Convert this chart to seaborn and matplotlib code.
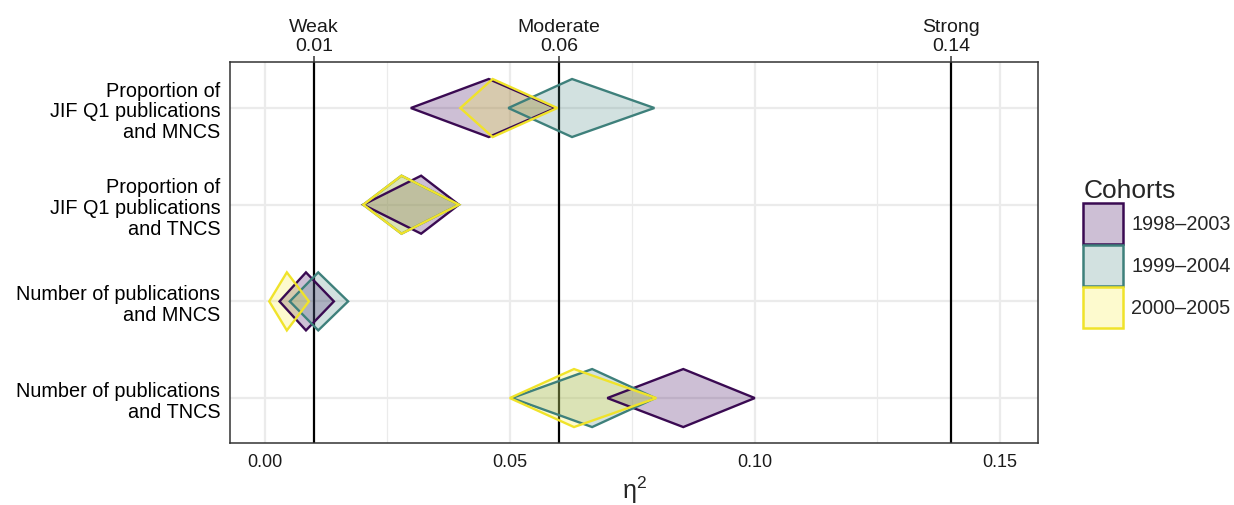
import numpy as np
import pandas as pd
import seaborn as sns
import matplotlib.pyplot as plt
from matplotlib.patches import Patch

# effect size (eta squared) with lower / upper CI per outcome pair and cohort
outcomes = ["Proportion of\nJIF Q1 publications\nand MNCS",
            "Proportion of\nJIF Q1 publications\nand TNCS",
            "Number of publications\nand MNCS",
            "Number of publications\nand TNCS"]
cohorts = ["1998\u20132003", "1999\u20132004", "2000\u20132005"]

eta_1998 = [0.0457, 0.0319, 0.0084, 0.0854]
low_1998 = [0.0298, 0.0201, 0.0030, 0.0699]
up_1998 = [0.0593, 0.0396, 0.0141, 0.1000]

eta_1999 = [0.0627, 0.0279, 0.0109, 0.0668]
low_1999 = [0.0497, 0.0201, 0.0051, 0.0504]
up_1999 = [0.0795, 0.0396, 0.0170, 0.0797]

eta_2000 = [0.0465, 0.0279, 0.0045, 0.0631]
low_2000 = [0.0399, 0.0201, 0.0009, 0.0500]
up_2000 = [0.0597, 0.0396, 0.0090, 0.0799]

thresholds = [0.01, 0.06, 0.14]
threshold_names = ["Weak", "Moderate", "Strong"]
x_ticks = [0.00, 0.05, 0.10, 0.15]

edge_colors = ["#3A0A52", "#3E807B", "#F0E32A"]
fill_colors = ["#3A0358", "#4E8A86", "#F8EC3C"]
fill_alpha = 0.25

df = pd.DataFrame({
    "outcome": outcomes * 3,
    "cohort": np.repeat(cohorts, len(outcomes)),
    "eta": eta_1998 + eta_1999 + eta_2000,
    "low": low_1998 + low_1999 + low_2000,
    "up": up_1998 + up_1999 + up_2000,
})

sns.set_theme(style="whitegrid")
plt.rcParams["font.family"] = ["Liberation Sans", "DejaVu Sans"]

fig = plt.figure(figsize=(12.34, 5.06), dpi=100)
ax = fig.add_axes([0.1864, 0.1225, 0.6548, 0.753])

# row positions: first outcome at top
ypos = {o: len(outcomes) - i for i, o in enumerate(outcomes)}
half_h = 0.3

for cohort, ec, fc in zip(cohorts, edge_colors, fill_colors):
    sub = df[df["cohort"] == cohort]
    for _, r in sub.iterrows():
        y = ypos[r["outcome"]]
        xs = [r["low"], r["eta"], r["up"], r["eta"]]
        ys = [y, y + half_h, y, y - half_h]
        ax.fill(xs, ys, facecolor=fc, alpha=fill_alpha, edgecolor="none", zorder=3)
        ax.fill(xs, ys, facecolor="none", edgecolor=ec, linewidth=1.7,
                joinstyle="miter", zorder=4)

for t in thresholds:
    ax.axvline(t, color="black", linewidth=1.6, zorder=2)

ax.set_xlim(-0.0071, 0.1578)
ax.set_ylim(0.535, 4.476)
ax.set_xticks(x_ticks)
ax.set_xticklabels([f"{v:.2f}" for v in x_ticks])
ax.set_xticks([0.025, 0.075, 0.125], minor=True)
ax.set_yticks(list(ypos.values()))
ax.set_yticklabels(list(ypos.keys()), linespacing=1.12, multialignment="right")

ax.grid(True, which="major", color="#EBEBEB", linewidth=1.6, zorder=0)
ax.grid(True, which="minor", axis="x", color="#EBEBEB", linewidth=0.9, zorder=0)
ax.set_axisbelow(True)
for s in ax.spines.values():
    s.set_color("#333333")
    s.set_linewidth(1.1)
ax.tick_params(axis="both", which="major", length=4, width=1.1, color="#333333",
               labelsize=13, labelcolor="#1a1a1a", pad=3)
ax.tick_params(axis="y", labelsize=14.3, labelcolor="black")
ax.tick_params(axis="x", which="minor", length=0)
ax.set_xlabel("$\\mathregular{η^{2}}$", fontsize=18, labelpad=3)
ax.set_ylabel("")

top = ax.secondary_xaxis("top")
top.set_xticks(thresholds)
top.set_xticklabels([f"{n}\n{t}" for n, t in zip(threshold_names, thresholds)],
                    linespacing=1.15)
top.tick_params(length=4, width=1.1, color="#333333", labelsize=14,
                labelcolor="#1a1a1a", pad=2)
top.spines["top"].set_visible(False)

handles = [Patch(facecolor=(*plt.matplotlib.colors.to_rgb(fc), fill_alpha),
                 edgecolor=ec, linewidth=1.8)
           for ec, fc in zip(edge_colors, fill_colors)]
leg = fig.legend(handles, cohorts, title="Cohorts", loc="center left",
                 bbox_to_anchor=(0.8715, 0.498), frameon=False, fontsize=14.3,
                 title_fontsize=19, handlelength=2.0, handleheight=2.8,
                 labelspacing=0.05, handletextpad=0.4, borderaxespad=0,
                 alignment="left")

fig.savefig("out.png", dpi=100)
